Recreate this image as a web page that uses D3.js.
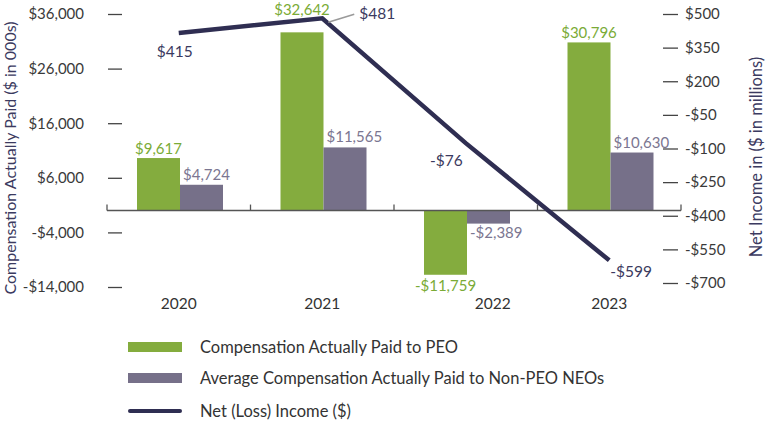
<!DOCTYPE html>
<html>
<head>
<meta charset="utf-8">
<script src="https://cdn.jsdelivr.net/npm/d3@7"></script>
<style>
  html, body { margin: 0; padding: 0; background: #fff; }
  svg { display: block; font-family: Lato, "Noto Sans", sans-serif; }
</style>
</head>
<body>
<svg id="chart" width="770" height="426"></svg>
<script>
// ---- data ----
const years = ["2020", "2021", "2022", "2023"];
const peoCAP = [9617, 32642, -11759, 30796];
const neoCAP = [4724, 11565, -2389, 10630];
const netIncome = [415, 481, -76, -599];
const leftTickValues = [36000, 26000, 16000, 6000, -4000, -14000];
const leftTickLabels = ["$36,000", "$26,000", "$16,000", "$6,000", "-$4,000", "-$14,000"];
const rightTickValues = [500, 350, 200, 50, -100, -250, -400, -550, -700];
const rightTickLabels = ["$500", "$350", "$200", "-$50", "-$100", "-$250", "-$400", "-$550", "-$700"];
const seriesNames = ["Compensation Actually Paid to PEO", "Average Compensation Actually Paid to Non-PEO NEOs", "Net (Loss) Income ($)"];
const leftTitle = "Compensation Actually Paid ($ in 000s)";
const rightTitle = "Net Income in ($ in millions)";

// ---- styles ----
const GREEN = "#84ac3e", GREY = "#767089", NAVY = "#2f2e52";
const GREEN_T = "#7aab36", GREY_T = "#7b7691", NAVY_T = "#3b3a60", TICK_T = "#3a3a3a";
const FS = 15;

const svg = d3.select("#chart");

const x = d3.scaleBand().domain(years).range([107, 681]).paddingInner(0).paddingOuter(0);
const bw = x.bandwidth();
const xs = d3.scaleBand().domain(["peo", "neo"]).range([30, 116]);
const yL = d3.scaleLinear().domain([-14000, 36000]).range([287, 14]);
const yR = d3.scaleLinear().domain([-700, 500]).range([283, 14]);

// left axis
const axL = svg.append("g").attr("transform", "translate(122,0)")
  .call(d3.axisLeft(yL).tickValues(leftTickValues).tickSize(14).tickPadding(24)
    .tickFormat((d, i) => leftTickLabels[i]));
axL.select(".domain").remove();
axL.selectAll("line").attr("stroke", "#444").attr("stroke-width", 1.3);
axL.selectAll("text").attr("fill", TICK_T).style("font-size", FS + "px").style("font-family", "Lato, sans-serif");

// right axis
const axR = svg.append("g").attr("transform", "translate(663,0)")
  .call(d3.axisRight(yR).tickValues(rightTickValues).tickSize(15).tickPadding(7)
    .tickFormat((d, i) => rightTickLabels[i]));
axR.select(".domain").remove();
axR.selectAll("line").attr("stroke", "#444").attr("stroke-width", 1.3);
axR.selectAll("text").attr("fill", TICK_T).style("font-size", FS + "px").style("font-family", "Lato, sans-serif");

// axis titles
svg.append("text").attr("transform", `translate(16,${158}) rotate(-90)`)
  .attr("text-anchor", "middle").attr("fill", NAVY_T).style("font-size", "16px").text(leftTitle);
svg.append("text").attr("transform", `translate(762,${157}) rotate(-90)`)
  .attr("text-anchor", "middle").attr("fill", NAVY_T).style("font-size", "16.5px").text(rightTitle);

// bars
const rows = years.map((yr, i) => ({ yr, i, peo: peoCAP[i], neo: neoCAP[i], ni: netIncome[i] }));
const g = svg.append("g");
g.selectAll("rect.peo").data(rows).join("rect").attr("class", "peo")
  .attr("x", d => x(d.yr) + xs("peo")).attr("width", xs.bandwidth())
  .attr("y", d => Math.min(yL(d.peo), yL(0))).attr("height", d => Math.abs(yL(d.peo) - yL(0)))
  .attr("fill", GREEN);
g.selectAll("rect.neo").data(rows).join("rect").attr("class", "neo")
  .attr("x", d => x(d.yr) + xs("neo")).attr("width", xs.bandwidth())
  .attr("y", d => Math.min(yL(d.neo), yL(0))).attr("height", d => Math.abs(yL(d.neo) - yL(0)))
  .attr("fill", GREY);

// baseline with category boundary ticks
const y0 = yL(0);
svg.append("line").attr("x1", 107).attr("x2", 681).attr("y1", y0).attr("y2", y0)
  .attr("stroke", "#555").attr("stroke-width", 1.5);
const bounds = years.map(yr => x(yr)).concat([x(years[years.length - 1]) + bw]);
svg.selectAll("line.btick").data(bounds).join("line").attr("class", "btick")
  .attr("x1", d => d).attr("x2", d => d).attr("y1", y0).attr("y2", y0 - 6)
  .attr("stroke", "#555").attr("stroke-width", 1.3);

// format
const fmt = v => (v < 0 ? "-$" : "$") + d3.format(",")(Math.abs(v));

// bar labels
g.selectAll("text.peoLab").data(rows).join("text").attr("class", "peoLab")
  .attr("x", d => x(d.yr) + xs("peo") + xs.bandwidth() / 2)
  .attr("y", d => d.peo >= 0 ? (d.i === 1 ? yL(d.peo) - 17 : yL(d.peo) - 4) : yL(d.peo) + 16)
  .attr("text-anchor", "middle").attr("fill", GREEN_T).style("font-size", FS + "px")
  .text(d => fmt(d.peo));
g.selectAll("text.neoLab").data(rows).join("text").attr("class", "neoLab")
  .attr("x", d => x(d.yr) + xs("neo") + 3)
  .attr("y", d => d.neo >= 0 ? yL(d.neo) - 5 : yL(d.neo) + 14)
  .attr("fill", GREY_T).style("font-size", FS + "px")
  .text(d => fmt(d.neo));

// category labels
svg.selectAll("text.cat").data(rows).join("text").attr("class", "cat")
  .attr("x", d => x(d.yr) + bw / 2 + (d.peo < 0 ? 27 : 0))
  .attr("y", 309).attr("text-anchor", "middle").attr("fill", "#333")
  .style("font-size", "15.5px").text(d => d.yr);

// net income line
const lx = d => x(d.yr) + bw / 2;
svg.append("path").datum(rows)
  .attr("d", d3.line().x(lx).y(d => yR(d.ni)))
  .attr("fill", "none").attr("stroke", NAVY).attr("stroke-width", 4.5)
  .attr("stroke-linejoin", "miter");

// line labels
const lineLab = [
  { dx: -22, dy: 24, anchor: "start" },
  { dx: 37, dy: 1, anchor: "start" },
  { dx: -3, dy: 23, anchor: "end" },
  { dx: 1, dy: 17, anchor: "start" }
];
svg.selectAll("text.niLab").data(rows).join("text").attr("class", "niLab")
  .attr("x", d => lx(d) + lineLab[d.i].dx).attr("y", d => yR(d.ni) + lineLab[d.i].dy)
  .attr("text-anchor", d => lineLab[d.i].anchor).attr("fill", NAVY_T)
  .style("font-size", "15.5px").text(d => fmt(d.ni));
// leader for 2021 label
const p1 = rows[1];
svg.append("line").attr("x1", lx(p1) + 6).attr("y1", yR(p1.ni) + 4)
  .attr("x2", lx(p1) + 32).attr("y2", yR(p1.ni) - 4)
  .attr("stroke", "#9a9a9a").attr("stroke-width", 1.5);

// legend
const leg = svg.append("g");
const legY = [347, 378, 411];
[0, 1].forEach(i => {
  leg.append("rect").attr("x", 128).attr("y", legY[i] - 5).attr("width", 54).attr("height", 10)
    .attr("fill", i === 0 ? GREEN : GREY);
});
leg.append("line").attr("x1", 130).attr("x2", 180).attr("y1", legY[2]).attr("y2", legY[2])
  .attr("stroke", NAVY).attr("stroke-width", 4).attr("stroke-linecap", "round");
seriesNames.forEach((n, i) => {
  leg.append("text").attr("x", 200).attr("y", legY[i]).attr("dy", "0.35em")
    .attr("fill", "#333").style("font-size", "16.5px").text(n);
});
</script>
</body>
</html>
